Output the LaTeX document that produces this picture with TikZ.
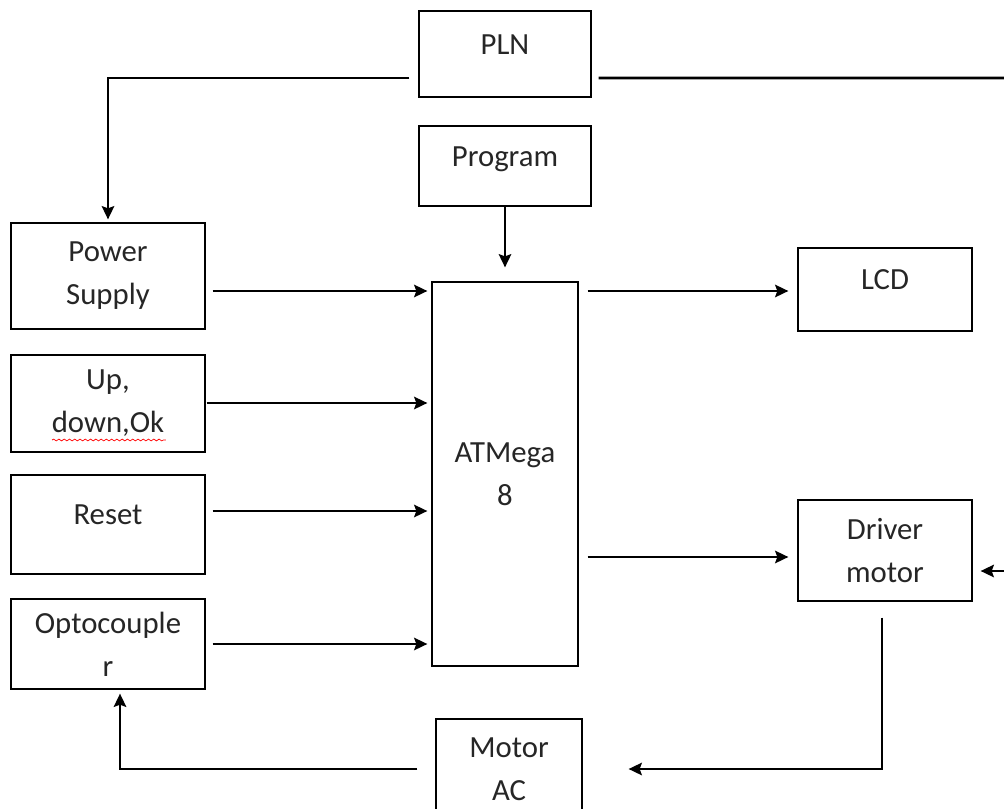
\documentclass[tikz,border=0pt]{standalone}
\usepackage{fontspec}
\setmainfont{Carlito}
\usetikzlibrary{arrows.meta,decorations.pathmorphing}

\tikzset{
  block/.style={draw, line width=0.7pt, align=center, inner sep=0pt,
    font=\fontsize{17.5}{24.4}\selectfont, text=black!85},
  oneline/.style={text height=0.45cm, text depth=0.45cm},
  wire/.style={line width=1.6pt, ->},
}

\begin{document}
\begin{tikzpicture}[x=0.02cm,y=-0.02cm,>={Stealth[length=7.5pt,width=7pt,inset=1.2pt]}]
  \useasboundingbox (0,0) rectangle (1004,808);
  \clip (0,0) rectangle (1004,808);

  \node[block,oneline,minimum width=3.44cm,minimum height=1.72cm] (pln)   at (505,54)    {PLN};
  \node[block,oneline,minimum width=3.44cm,minimum height=1.6cm]  (prog)  at (505,166)   {Program};
  \node[block,minimum width=3.88cm,minimum height=2.12cm]         (psu)   at (108,276)   {Power\\Supply};
  \node[block,minimum width=3.88cm,minimum height=1.94cm]         (keys)  at (108,403.5) {Up,\\down,Ok};
  \node[block,oneline,minimum width=3.88cm,minimum height=1.98cm] (reset) at (108,524.5) {Reset};
  \node[block,minimum width=3.88cm,minimum height=1.8cm]          (opto)  at (108,644)   {Optocouple\\r};
  \node[block,minimum width=2.92cm,minimum height=7.68cm]         (mcu)   at (505,474)   {ATMega\\8};
  \node[block,oneline,minimum width=3.48cm,minimum height=1.66cm] (lcd)   at (885,289.5) {LCD};
  \node[block,minimum width=3.48cm,minimum height=2.02cm]         (drv)   at (885,550.5) {Driver\\motor};
  \node[block,minimum width=2.92cm,minimum height=2cm]            (motor) at (509,769)   {Motor\\AC};

  \coordinate (mainsR) at (1004,78);
  \coordinate (feed)   at (1004,571);

  % spell-check mark under the keys text
  \draw[red, line width=0.4pt, decorate, decoration={snake,amplitude=0.5pt,segment length=3pt}]
    ([shift={(-1.12cm,-0.73cm)}]keys.center) -- ++(2.28cm,0);

  % mains
  \draw[wire,shorten <=0.18cm,shorten >=0.06cm] ([yshift=-0.48cm]pln.west) -| (psu.north);
  \draw[line width=1.6pt,shorten <=0.14cm] ([yshift=-0.48cm]pln.east) -- (mainsR);

  % inputs to the controller
  \draw[wire,shorten >=0.28cm] (prog.south) -- (mcu.north);
  \draw[wire,shorten <=0.14cm,shorten >=0.08cm] ([yshift=-0.3cm]psu.east) -- ([yshift=-0.3cm]psu.east -| mcu.west);
  \draw[wire,shorten <=0.02cm,shorten >=0.08cm] ([yshift=0.01cm]keys.east) -- ([yshift=0.01cm]keys.east -| mcu.west);
  \draw[wire,shorten <=0.14cm,shorten >=0.08cm] ([yshift=0.27cm]reset.east) -- ([yshift=0.27cm]reset.east -| mcu.west);
  \draw[wire,shorten <=0.14cm,shorten >=0.08cm] (opto.east) -- (opto.east -| mcu.west);

  % outputs
  \draw[wire,shorten <=0.18cm,shorten >=0.18cm] ([yshift=-0.03cm]lcd.west -| mcu.east) -- ([yshift=-0.03cm]lcd.west);
  \draw[wire,shorten <=0.18cm,shorten >=0.18cm] ([yshift=-0.13cm]drv.west -| mcu.east) -- ([yshift=-0.13cm]drv.west);
  \draw[wire,shorten >=0.16cm] (feed) -- (feed -| drv.east);

  % motor loop
  \draw[wire,shorten <=0.32cm,shorten >=0.92cm] ([xshift=-0.06cm]drv.south) |- (motor.east);
  \draw[wire,shorten <=0.36cm,shorten >=0.08cm] (motor.west) -| ([xshift=0.24cm]opto.south);
\end{tikzpicture}
\end{document}
